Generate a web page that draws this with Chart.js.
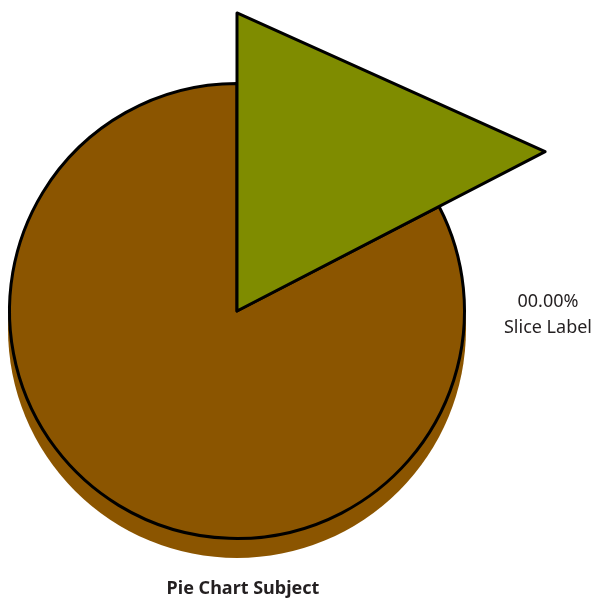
<!DOCTYPE html>
<html>
<head>
<meta charset="utf-8">
<script src="https://cdn.jsdelivr.net/npm/chart.js@4"></script>
<style>
  html, body { margin: 0; padding: 0; background: #ffffff; }
  #pie { display: block; }
</style>
</head>
<body>
<canvas id="pie" width="597" height="599"></canvas>
<script>
// slice data
const sliceNames = ['Slice Label', 'Remainder'];
const sliceValues = [17.4, 82.6];
const sliceColors = ['#7f8c00', '#8b5500'];
const sliceLabelText = ['00.00%', 'Slice Label'];
const subjectTitle = 'Pie Chart Subject';

document.addEventListener('DOMContentLoaded', function() {
    const canvas = document.getElementById('pie');

    // brown base gets a shadowed "thickness" below it
    const depthPlugin = {
        id: 'depth',
        beforeDatasetsDraw(chart) {
            const arc = chart.getDatasetMeta(0).data[1];
            const ctx = chart.ctx;
            ctx.save();
            ctx.fillStyle = sliceColors[1];
            ctx.beginPath();
            ctx.arc(arc.x, arc.y + 18, arc.outerRadius + 1.5, 0, Math.PI * 2);
            ctx.fill();
            ctx.restore();
        }
    };

    // the highlighted slice is pulled out as a pointed wedge
    const wedgePlugin = {
        id: 'wedge',
        afterDatasetsDraw(chart) {
            const arc = chart.getDatasetMeta(0).data[0];
            const ctx = chart.ctx;
            const r1 = arc.outerRadius * 1.31;
            const r2 = arc.outerRadius * 1.525;
            ctx.save();
            ctx.beginPath();
            ctx.moveTo(arc.x, arc.y);
            ctx.lineTo(arc.x + r1 * Math.cos(arc.startAngle), arc.y + r1 * Math.sin(arc.startAngle));
            ctx.lineTo(arc.x + r2 * Math.cos(arc.endAngle), arc.y + r2 * Math.sin(arc.endAngle));
            ctx.closePath();
            ctx.fillStyle = sliceColors[0];
            ctx.fill();
            ctx.lineWidth = 3;
            ctx.lineJoin = 'round';
            ctx.strokeStyle = '#000000';
            ctx.stroke();
            ctx.restore();
        }
    };

    const textPlugin = {
        id: 'texts',
        afterDraw(chart) {
            const ctx = chart.ctx;
            const area = chart.chartArea;
            ctx.save();
            ctx.fillStyle = '#231f20';
            ctx.textAlign = 'center';
            ctx.textBaseline = 'alphabetic';
            ctx.font = '18px "Noto Sans"';
            ctx.fillText(sliceLabelText[0], area.right + 82, area.top + 225);
            ctx.fillText(sliceLabelText[1], area.right + 82, area.top + 251);
            ctx.font = 'bold 18px "Noto Sans"';
            ctx.fillText(subjectTitle, area.left + 235, area.bottom + 54);
            ctx.restore();
        }
    };

    new Chart(canvas, {
        type: 'pie',
        data: {
            labels: sliceNames,
            datasets: [{
                data: sliceValues,
                backgroundColor: ['rgba(0,0,0,0)', sliceColors[1]],
                borderColor: ['rgba(0,0,0,0)', '#000000'],
                borderWidth: 3,
                borderJoinStyle: 'round'
            }]
        },
        options: {
            responsive: false,
            animation: false,
            layout: { padding: { left: 8, top: 82, right: 131, bottom: 59 } },
            plugins: {
                legend: { display: false },
                tooltip: { enabled: false }
            }
        },
        plugins: [depthPlugin, wedgePlugin, textPlugin]
    });
});
</script>
</body>
</html>
